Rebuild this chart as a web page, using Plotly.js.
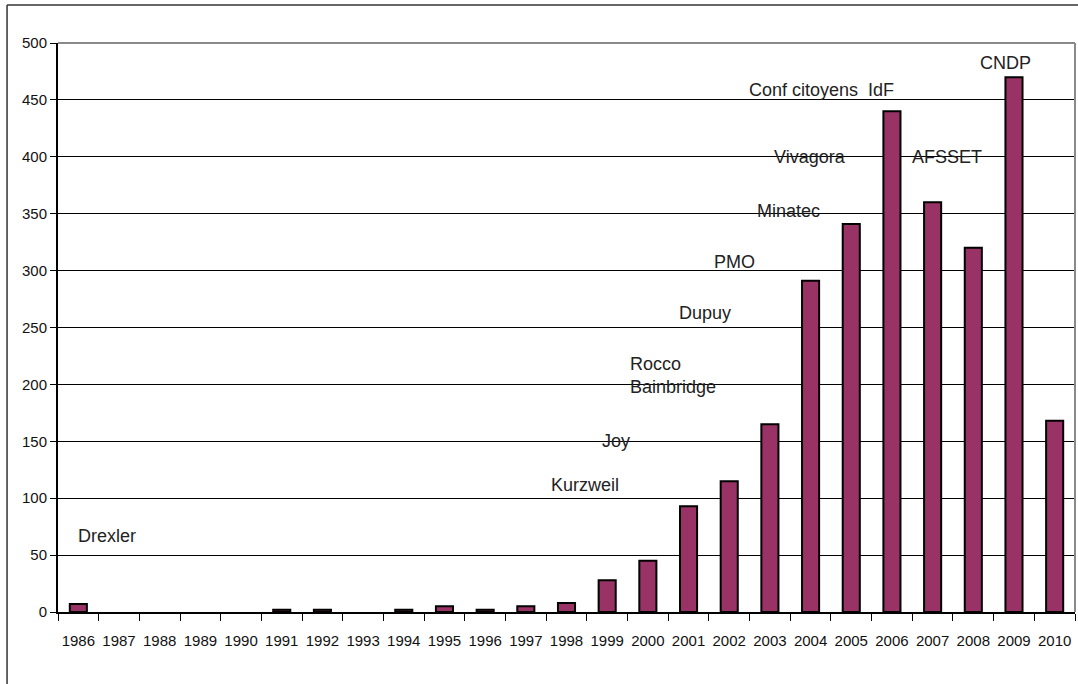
<!DOCTYPE html>
<html>
<head>
<meta charset="utf-8">
<script src="https://cdn.plot.ly/plotly-3.0.1.min.js"></script>
<style>html,body{margin:0;padding:0;background:#fff;}#chart{width:1078px;height:684px;}</style>
</head>
<body>
<div id="chart"></div>
<script>
const years = ["1986","1987","1988","1989","1990","1991","1992","1993","1994","1995","1996","1997","1998","1999","2000","2001","2002","2003","2004","2005","2006","2007","2008","2009","2010"];
const counts = [7,0,0,0,0,2,2,0,2,5,2,5,8,28,45,93,115,165,291,341,440,360,320,470,168];
const yTicks = [0,50,100,150,200,250,300,350,400,450,500];

const noteTexts = ["Drexler","Kurzweil","Joy","Rocco<br>Bainbridge","Dupuy","PMO","Minatec","Vivagora","Conf citoyens  IdF","AFSSET","CNDP"];
const noteX = [0.70,12.45,13.22,13.51,15.4,16.12,17.45,17.99,18.26,21.35,22.8];
const noteY = [67,112,150,208,263,308,352,400,459,400,482];
const noteAnchor = ["center","center","center","left","center","center","center","center","center","center","center"];

const trace = {
  type: "bar",
  x: years,
  y: counts,
  width: 0.42,
  marker: {color: "#993366", line: {color: "#000", width: counts.map(v => v > 0 ? 2 : 0)}},
  hoverinfo: "x+y"
};

const annotations = noteTexts.map((t, i) => ({
  x: noteX[i], y: noteY[i], xref: "x", yref: "y",
  text: t, showarrow: false, xanchor: noteAnchor[i], yanchor: "middle",
  align: "left",
  font: {family: "Liberation Sans, Arial, sans-serif", size: 18, color: "#222"}
}));

const tickFont = {family: "Liberation Sans, Arial, sans-serif", size: 15, color: "#111"};

const layout = {
  width: 1078, height: 684,
  margin: {l: 58, r: 3, t: 43, b: 72},
  paper_bgcolor: "#fff", plot_bgcolor: "#fff",
  showlegend: false,
  bargap: 0,
  font: {family: "Liberation Sans, Arial, sans-serif", color: "#111"},
  xaxis: {
    type: "category",
    tickson: "boundaries",
    tickangle: 0,
    ticks: "outside", ticklen: 7, tickcolor: "#000", tickwidth: 1,
    showgrid: false,
    showline: true, linecolor: "#000", linewidth: 2,
    tickfont: tickFont,
    ticklabelstandoff: 14,
    range: [-0.5, 24.5]
  },
  yaxis: {
    range: [0, 500],
    tickvals: yTicks,
    ticks: "outside", ticklen: 6, tickcolor: "#000",
    showgrid: true, gridcolor: "#000", gridwidth: 1,
    showline: true, linecolor: "#000", linewidth: 2,
    zeroline: false,
    tickfont: tickFont
  },
  shapes: [
    {type: "line", xref: "paper", yref: "paper", x0: 0, x1: 1, y0: 1, y1: 1, line: {color: "#8a8a8a", width: 2}},
    {type: "line", xref: "paper", yref: "paper", x0: 1, x1: 1, y0: 0, y1: 1, line: {color: "#8a8a8a", width: 2}},
    {type: "line", xref: "paper", yref: "paper", x0: -0.0501, x1: -0.0501, y0: -0.13, y1: 1.0668, line: {color: "#333", width: 1.5}},
    {type: "line", xref: "paper", yref: "paper", x0: -0.0501, x1: 1.01, y0: 1.0668, y1: 1.0668, line: {color: "#333", width: 1.5}}
  ],
  annotations: annotations
};

Plotly.newPlot("chart", [trace], layout, {displayModeBar: false, staticPlot: true});
</script>
</body>
</html>
